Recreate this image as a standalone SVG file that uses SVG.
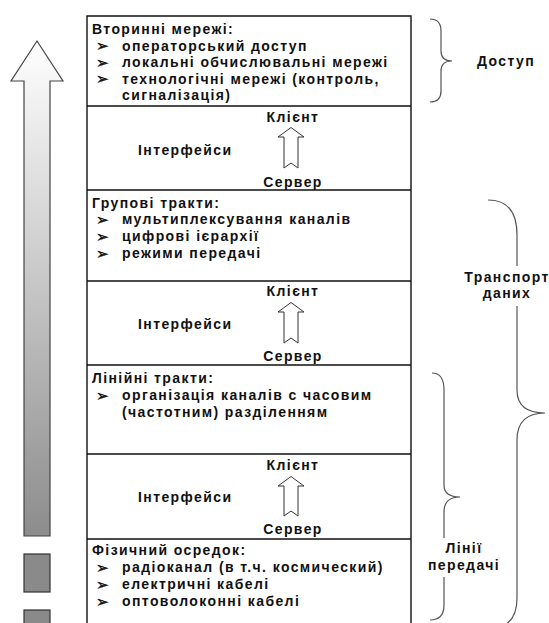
<svg xmlns="http://www.w3.org/2000/svg" width="549" height="623" viewBox="0 0 549 623">
<defs>
<linearGradient id="g" gradientUnits="userSpaceOnUse" x1="0" y1="41" x2="0" y2="536">
<stop offset="0" stop-color="#ffffff"/>
<stop offset="1" stop-color="#8c8c8c"/>
</linearGradient>
<style>
.t{font-family:"Liberation Sans",Arial,sans-serif;font-weight:bold;font-size:14px;letter-spacing:1.4px;fill:#111}
.m{text-anchor:middle}
.b{font-family:"DejaVu Sans",sans-serif;font-weight:bold;font-size:15px;fill:#111;stroke:#111;stroke-width:0.4}
.ln{stroke:#111;stroke-width:1.4;fill:none}
.br{stroke:#555;stroke-width:1.2;fill:none}
.ar{fill:#fff;stroke:#333;stroke-width:1}
.sq{fill:#8a8a8a;stroke:#333;stroke-width:1.2}
</style>
</defs>
<g id="scale-arrow">
<polygon points="37,41 63,81 50,81 50,536 24,536 24,81 11,81" fill="url(#g)" stroke="#444" stroke-width="1.2"/>
<rect class="sq" x="24" y="554" width="26" height="38"/>
<rect class="sq" x="24" y="610" width="26" height="20"/>
</g>
<g id="frame">
<path class="ln" d="M87,623 V16 H411 V623"/>
<path class="ln" d="M87,106 H411 M87,190 H411 M87,365 H411 M87,454 H411 M87,539 H411"/>
<path class="ln" d="M87,281 H411" stroke-width="2"/>
</g>
<g id="secondary">
<text class="t" x="92" y="34">Вторинні мережі:</text>
<text class="b" x="96" y="51">➢</text><text class="t" x="122" y="50.5">операторський доступ</text>
<text class="b" x="96" y="67.5">➢</text><text class="t" x="122" y="67">локальні обчислювальні мережі</text>
<text class="b" x="96" y="84">➢</text><text class="t" x="122" y="83.5">технологічні мережі (контроль,</text>
<text class="t" x="122" y="100">сигналізація)</text>
</g>
<g id="iface1">
<text class="t m" x="293" y="122">Клієнт</text>
<text class="t" x="138" y="155">Інтерфейси</text>
<path class="ar" d="M291,127.5 L304,137 L298,137 L298,168 L291,163 L284,168 L284,137 L278,137 Z"/>
<text class="t m" x="293" y="187">Сервер</text>
</g>
<g id="group">
<text class="t" x="92" y="208">Групові тракти:</text>
<text class="b" x="96" y="224.5">➢</text><text class="t" x="122" y="224">мультиплексування каналів</text>
<text class="b" x="96" y="241.5">➢</text><text class="t" x="122" y="241">цифрові ієрархії</text>
<text class="b" x="96" y="258.5">➢</text><text class="t" x="122" y="258">режими передачі</text>
</g>
<g id="iface2">
<text class="t m" x="293" y="296">Клієнт</text>
<text class="t" x="138" y="329">Інтерфейси</text>
<path class="ar" d="M291,302.5 L304,312 L298,312 L298,343 L291,338 L284,343 L284,312 L278,312 Z"/>
<text class="t m" x="293" y="361">Сервер</text>
</g>
<g id="line">
<text class="t" x="92" y="383">Лінійні тракти:</text>
<text class="b" x="96" y="400.5">➢</text><text class="t" x="122" y="400">організація каналів с часовим</text>
<text class="t" x="122" y="417">(частотним) разділенням</text>
</g>
<g id="iface3">
<text class="t m" x="293" y="470">Клієнт</text>
<text class="t" x="138" y="502">Інтерфейси</text>
<path class="ar" d="M291,476.5 L304,486 L298,486 L298,516 L291,511 L284,516 L284,486 L278,486 Z"/>
<text class="t m" x="293" y="534">Сервер</text>
</g>
<g id="physical">
<text class="t" x="92" y="555">Фізичний осредок:</text>
<text class="b" x="96" y="572.5">➢</text><text class="t" x="122" y="572">радіоканал (в т.ч. космический)</text>
<text class="b" x="96" y="589.5">➢</text><text class="t" x="122" y="589">електричні кабелі</text>
<text class="b" x="96" y="606.5">➢</text><text class="t" x="122" y="606">оптоволоконні кабелі</text>
</g>
<g id="connectors">
<path class="br" d="M430,19 Q441,19 441,31 L441,51 Q441,61 452,61 Q441,61 441,71 L441,91 Q441,102 430,102"/>
<path class="br" d="M488,200 Q517,200 517,235 L517,266 M517,306 L517,390 Q517,413 545,413 Q517,413 517,440 L517,598 Q517,628 490,628"/>
<path class="br" d="M432,373 Q444,373 444,390 L444,485 Q444,497 460,497 Q444,497 444,512 L444,538 M444,577 L444,605 Q444,620 430,620"/>
</g>
<g id="labels">
<text class="t m" x="506" y="66">Доступ</text>
<text class="t m" x="507" y="282">Транспорт</text>
<text class="t m" x="507" y="298">даних</text>
<text class="t m" x="464" y="553">Лінії</text>
<text class="t m" x="464" y="570">передачі</text>
</g>
</svg>
